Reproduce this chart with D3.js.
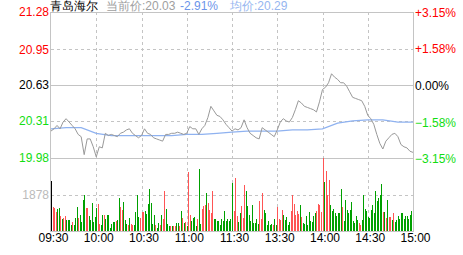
<!DOCTYPE html>
<html>
<head>
<meta charset="utf-8">
<script src="https://cdn.jsdelivr.net/npm/d3@7/dist/d3.min.js"></script>
<style>
  body { margin: 0; background: #fff; }
  text { font-family: "Liberation Sans", Arial, sans-serif; font-size: 12px; }
</style>
</head>
<body>
<script>

    // header
    var stockName = "青岛海尔",
        lastPrice = "20.03",
        changePct = "-2.91%",
        avgPrice = "20.29",
        preClose = 20.63;

    // axis ticks
    var priceTicks = [21.28, 20.95, 20.63, 20.31, 19.98];
    var pctTicks = [3.15, 1.58, 0, -1.58, -3.15];
    var volTicks = [1878];
    var timeTicks = [0, 30, 60, 90, 120, 150, 180, 210, 240];
    var timeLabels = ["09:30", "10:00", "10:30", "11:00", "11:30", "13:30", "14:00", "14:30", "15:00"];

    // price every 2 minutes (minute 0 .. 240)
    var prices = [
        20.22, 20.24, 20.27, 20.24, 20.30, 20.33, 20.30, 20.27, 20.24, 20.19,
        20.17, 20.01, 20.15, 20.15, 20.08, 19.99, 20.08, 20.07, 20.20, 20.18,
        20.19, 20.18, 20.17, 20.20, 20.21, 20.23, 20.24, 20.20, 20.18, 20.16,
        20.18, 20.24, 20.20, 20.19, 20.16, 20.15, 20.14, 20.13, 20.19, 20.19,
        20.20, 20.20, 20.21, 20.20, 20.19, 20.20, 20.26, 20.24, 20.24, 20.19,
        20.24, 20.27, 20.34, 20.44, 20.40, 20.36, 20.35, 20.32, 20.28, 20.25,
        20.22, 20.24, 20.23, 20.25, 20.32, 20.25, 20.20, 20.18, 20.16, 20.15,
        20.25, 20.23, 20.21, 20.19, 20.17, 20.23, 20.30, 20.33, 20.31, 20.30,
        20.34, 20.41, 20.49, 20.47, 20.44, 20.43, 20.42, 20.41, 20.39, 20.48,
        20.59, 20.61, 20.65, 20.73, 20.70, 20.68, 20.65, 20.65, 20.62, 20.57,
        20.52, 20.51, 20.50, 20.49, 20.44, 20.36, 20.33, 20.28, 20.19, 20.11,
        20.06, 20.13, 20.16, 20.19, 20.20, 20.17, 20.10, 20.08, 20.07, 20.04,
        20.03
    ];

    // average price every 10 minutes
    var avgPrices = [
        20.24, 20.25, 20.25, 20.20, 20.18, 20.18, 20.18, 20.18, 20.18, 20.19,
        20.19, 20.20, 20.21, 20.22, 20.22, 20.22, 20.23, 20.23, 20.24, 20.29,
        20.31, 20.32, 20.32, 20.30, 20.30
    ];

    // volume per minute, morning 09:30-11:30 and afternoon 13:01-15:00
    var volumesAM = [
        2595, 1229, 1161, 956, 1110, 1161, 751, 597, 649, 751, 546, 546, 546, 307, 444, 290, 649, 1229, 683, 802, 444, 1570, 1878, 1195, 1161, 751, 546, 1417, 444, 700, 1161,
        1366, 341, 290, 802, 802, 597, 802, 802, 137, 341, 444, 444, 495, 546, 1673, 1229, 1058, 1468, 546, 341, 290, 649, 341, 290, 290, 956, 1878, 700, 649, 990,
        956, 1024, 854, 1366, 2185, 1434, 376, 802, 307, 171, 393, 290, 802, 597, 2083, 1110, 341, 239, 239, 239, 239, 239, 393, 393, 239, 1007, 649, 393, 444, 239,
        3021, 802, 495, 649, 700, 239, 597, 3209, 341, 1110, 1263, 1314, 1980, 1417, 1058, 905, 2083, 597, 597, 495, 495, 290, 597, 495, 1007, 495, 597, 495, 597, 2492
    ];
    var volumesPM = [
        1007, 2748, 751, 444, 905, 1263, 649, 2390, 2083, 1263, 802, 495, 1314, 393, 393, 597, 341, 1519, 597, 1980, 1058, 905, 290, 495, 290, 341, 290, 597, 290, 1212,
        597, 546, 1058, 802, 546, 700, 290, 444, 1007, 1827, 1366, 802, 1007, 854, 1314, 700, 393, 341, 751, 290, 956, 495, 444, 751, 905, 1007, 1366, 1314, 956, 3740,
        2543, 3107, 1827, 2646, 1314, 1007, 1110, 905, 751, 905, 905, 2185, 1212, 495, 1570, 1058, 905, 1058, 1468, 495, 393, 751, 546, 393, 290, 546, 1827, 1110, 1007, 700,
        649, 1058, 1314, 905, 2083, 1519, 1673, 1878, 2441, 956, 956, 649, 1570, 700, 700, 546, 905, 444, 546, 751, 597, 905, 905, 597, 751, 751, 597, 802, 1007, 34
    ];
    // k = opening, r = up, g = down (groups of five minutes)
    var volSides = [
        "krrrg", "grgrr", "ggggr", "gggrg", "gggrr", "ggggg", "g",
        "rrggr", "ggggg", "ggrgg", "rrggg", "rgrrg", "gggrr",
        "rgggg", "gggrg", "grgrr", "gggrg", "rrggr", "grgrg",
        "rrggg", "grggr", "rrgrr", "rrggg", "ggggg", "ggggg",
        "rrrgg", "rrrgg", "ggggg", "ggrrr", "ggggg", "grggr",
        "rrrgg", "gggrr", "rrrrg", "rgggg", "ggggg", "rrrrr",
        "grrrg", "ggggg", "ggrgg", "ggggg", "gggrr", "ggggg",
        "ggggg", "ggggr", "grgrr", "grggg", "ggggg", "ggggr"
    ].join("").split("");

    var volumes = volumesAM.concat(volumesPM);

    var width = 463, height = 255,
        plotLeft = 51, plotRight = 413,
        plotTop = 12, priceBottom = 158, volBottom = 231;

    var gridColor = "#c4c4c4",
        upColor = "#ff0000",
        downColor = "#11dd11";

    var x = d3.scaleLinear().domain([0, 240]).range([plotLeft, plotRight]);
    var yPrice = d3.scaleLinear().domain([19.98, 21.28]).range([priceBottom, plotTop]);
    var yPct = d3.scaleLinear().domain([-3.15, 3.15]).range([priceBottom, plotTop]);
    var yVol = d3.scaleLinear().domain([0, 3756]).range([volBottom, priceBottom]);

    var svg = d3.select("body").append("svg")
        .attr("width", width)
        .attr("height", height);

    var px = (v) => Math.round(v) + 0.5;

    // dashed grid
    var grid = svg.append("g")
        .attr("stroke", gridColor)
        .attr("stroke-width", 1)
        .attr("shape-rendering", "crispEdges");

    grid.selectAll(".vgrid")
        .data(timeTicks.slice(1, -1))
        .enter().append("line")
        .attr("x1", (d) => px(x(d))).attr("x2", (d) => px(x(d)))
        .attr("y1", plotTop).attr("y2", volBottom)
        .attr("stroke-dasharray", "3,3");

    grid.selectAll(".hgrid")
        .data([20.95, 20.31])
        .enter().append("line")
        .attr("x1", plotLeft).attr("x2", plotRight)
        .attr("y1", (d) => px(yPrice(d))).attr("y2", (d) => px(yPrice(d)))
        .attr("stroke-dasharray", "3,3");

    grid.selectAll(".vgridv")
        .data(volTicks)
        .enter().append("line")
        .attr("x1", plotLeft).attr("x2", plotRight)
        .attr("y1", (d) => px(yVol(d))).attr("y2", (d) => px(yVol(d)))
        .attr("stroke-dasharray", "3,3");

    grid.selectAll(".solid")
        .data([preClose, 19.98])
        .enter().append("line")
        .attr("x1", plotLeft).attr("x2", plotRight)
        .attr("y1", (d) => px(yPrice(d))).attr("y2", (d) => px(yPrice(d)));

    // volume bars
    var volColor = { k: "#000000", r: "#ff5555", g: "#00a000" };
    svg.append("g")
        .attr("shape-rendering", "crispEdges")
        .selectAll("rect")
        .data(volumes)
        .enter().append("rect")
        .attr("x", (d, i) => Math.round(x(i)))
        .attr("width", 1)
        .attr("y", (d) => Math.round(yVol(d)))
        .attr("height", (d) => volBottom - Math.round(yVol(d)))
        .attr("fill", (d, i) => volColor[volSides[i]]);

    // average line
    svg.append("path")
        .datum(avgPrices)
        .attr("fill", "none")
        .attr("stroke", "#8fb2f0")
        .attr("stroke-width", 1.2)
        .attr("d", d3.line().x((d, i) => x(i * 10)).y((d) => yPrice(d)));

    // price line
    svg.append("path")
        .datum(prices)
        .attr("fill", "none")
        .attr("stroke", "#999999")
        .attr("stroke-width", 1)
        .attr("d", d3.line().x((d, i) => x(i * 2)).y((d) => yPrice(d)));

    // frame
    svg.append("rect")
        .attr("x", plotLeft - 0.5).attr("y", plotTop + 0.5)
        .attr("width", plotRight - plotLeft + 1).attr("height", volBottom - plotTop)
        .attr("fill", "none")
        .attr("stroke", gridColor)
        .attr("shape-rendering", "crispEdges");

    // left price axis
    var priceColor = (d) => d > preClose ? upColor : (d < preClose ? downColor : "#000");
    var leftAxis = svg.append("g")
        .attr("transform", "translate(" + (plotLeft - 2) + ",0)")
        .call(d3.axisLeft(yPrice).tickValues(priceTicks).tickSize(0).tickPadding(0)
              .tickFormat(d3.format(".2f")));
    leftAxis.select(".domain").remove();
    leftAxis.selectAll("text")
        .attr("font-size", 12).attr("font-family", "Liberation Sans, Arial")
        .attr("dy", "0.33em")
        .attr("fill", (d) => priceColor(d));

    var volAxis = svg.append("g")
        .attr("transform", "translate(" + (plotLeft - 2) + ",0)")
        .call(d3.axisLeft(yVol).tickValues(volTicks).tickSize(0).tickPadding(0)
              .tickFormat(d3.format("d")));
    volAxis.select(".domain").remove();
    volAxis.selectAll("text")
        .attr("font-size", 12).attr("font-family", "Liberation Sans, Arial")
        .attr("dy", "0.33em")
        .attr("fill", "#bbbbbb");

    // right percent axis
    var rightAxis = svg.append("g")
        .attr("transform", "translate(" + (plotRight + 2) + ",0)")
        .call(d3.axisRight(yPct).tickValues(pctTicks).tickSize(0).tickPadding(0)
              .tickFormat((d) => (d > 0 ? "+" : "") + d3.format(".2f")(d) + "%"));
    rightAxis.select(".domain").remove();
    rightAxis.selectAll("text")
        .attr("font-size", 12).attr("font-family", "Liberation Sans, Arial")
        .attr("dy", "0.38em")
        .attr("fill", (d) => d > 0 ? upColor : (d < 0 ? downColor : "#000"));

    // time axis
    var timeAxis = svg.append("g")
        .attr("transform", "translate(2," + (volBottom + 2) + ")")
        .call(d3.axisBottom(x).tickValues(timeTicks).tickSize(0).tickPadding(0)
              .tickFormat((d, i) => timeLabels[i]));
    timeAxis.select(".domain").remove();
    timeAxis.selectAll("text")
        .attr("font-size", 12)
        .attr("font-family", "Liberation Sans Narrow, Liberation Sans, Arial")
        .attr("dy", "0.78em")
        .attr("fill", "#000");

    // header line
    var head = svg.append("g").attr("font-size", 12);
    head.append("text").attr("x", 50).attr("y", 10)
        .attr("font-family", "Noto Sans CJK SC").attr("fill", "#000").text(stockName);
    head.append("text").attr("x", 106).attr("y", 10)
        .attr("font-family", "Noto Sans CJK SC, Liberation Sans").attr("fill", "#a0a0a0")
        .text("当前价:" + lastPrice);
    head.append("text").attr("x", 180).attr("y", 10)
        .attr("font-family", "Liberation Sans, Arial").attr("fill", "#6b94ea")
        .text(changePct);
    head.append("text").attr("x", 230).attr("y", 10)
        .attr("font-family", "Noto Sans CJK SC, Liberation Sans").attr("fill", "#96b6f0")
        .text("均价:" + avgPrice);

</script>
</body>
</html>
